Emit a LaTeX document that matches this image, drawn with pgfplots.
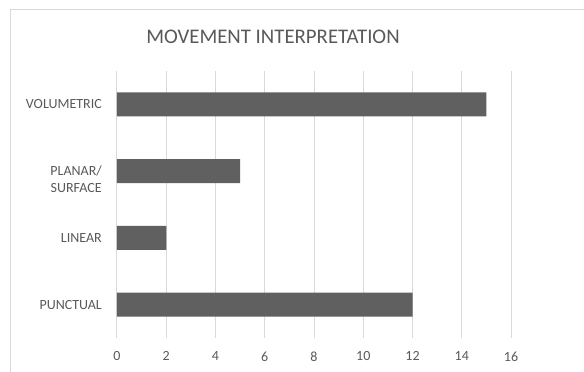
\documentclass[border=0pt]{standalone}
\usepackage{pgfplots}
\pgfplotsset{compat=1.18}
\usepackage{fontspec}
\setmainfont{Carlito}
\definecolor{txt}{RGB}{89,89,89}
\definecolor{gridc}{RGB}{217,217,217}
\definecolor{barc}{RGB}{96,96,96}
\begin{document}
\begin{tikzpicture}[x=1pt,y=1pt]
\useasboundingbox (0,0) rectangle (584,372);
\draw[gridc, line width=1pt] (10.5,0) -- (10.5,362) -- (584,362);
\node[anchor=base, text=txt, inner sep=0pt, font=\fontsize{20.8}{24}\selectfont] at (273,328) {MOVEMENT INTERPRETATION};
\begin{axis}[at={(117pt,34pt)}, anchor=south west, scale only axis,
  width=394pt, height=267pt,
  xmin=0, xmax=16, ymin=-0.5, ymax=3.5,
  xtick={0,2,...,16}, ytick={0,1,2,3},
  yticklabels={PUNCTUAL, LINEAR, {\begin{tabular}[t]{@{}c@{}}PLANAR/\\SURFACE\end{tabular}}, VOLUMETRIC},
  /pgf/number format/assume math mode=true,
  yticklabel style={anchor=base east, inner sep=0pt, xshift=-15pt, yshift=-4.4pt, text=txt, font=\fontsize{14}{17}\selectfont},
  xticklabel style={anchor=north, inner sep=0pt, yshift=-13.5pt, text=txt, font=\fontsize{14}{16}\selectfont},
  xmajorgrids, grid style={gridc, line width=1pt},
  axis line style={draw=none}, tick style={draw=none},
  major tick length=0pt,
]
\addplot[xbar, bar width=24pt, fill=barc, draw=none] coordinates {(12,0) (2,1) (5,2) (15,3)};
\end{axis}
\end{tikzpicture}
\end{document}
